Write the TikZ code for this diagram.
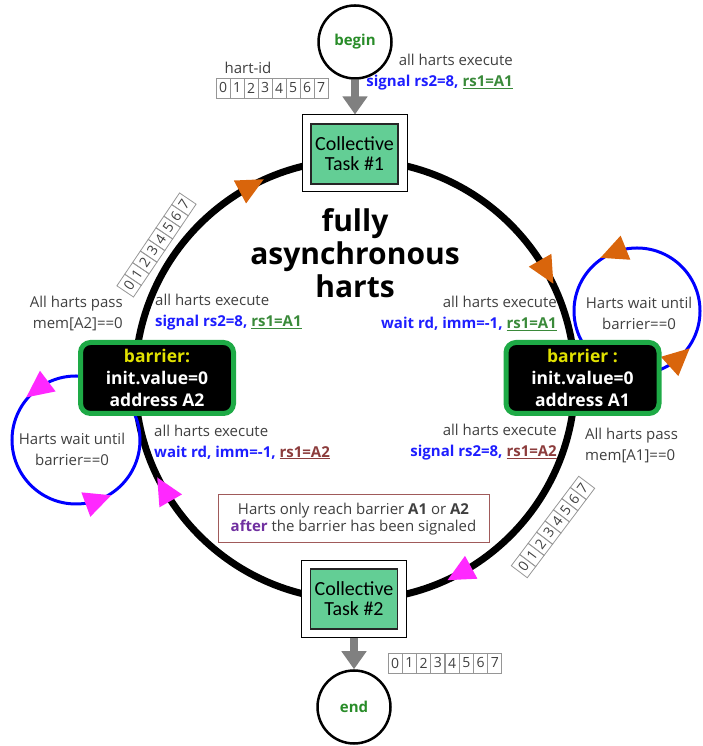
\documentclass[tikz,border=0pt]{standalone}
\usepackage{fontspec}
\setmainfont{Open Sans}
\newfontfamily\calfont{Carlito}
\usetikzlibrary{arrows.meta,decorations.markings}
\definecolor{tblue}{RGB}{30,30,255}
\definecolor{tgreen}{RGB}{58,138,58}
\definecolor{tbrown}{RGB}{140,60,60}
\definecolor{tpurple}{RGB}{112,48,160}
\definecolor{tgray}{RGB}{64,64,64}
\definecolor{ylw}{RGB}{225,225,0}
\definecolor{bgreen}{RGB}{30,170,70}
\definecolor{orangeA}{RGB}{217,101,12}
\definecolor{magA}{RGB}{255,40,255}
\definecolor{taskgreen}{RGB}{99,206,149}
\definecolor{loopblue}{RGB}{0,0,255}
\definecolor{arrgray}{RGB}{128,128,128}
\definecolor{cellgray}{RGB}{150,150,150}
\definecolor{notebrown}{RGB}{160,90,90}
\definecolor{termgreen}{RGB}{40,140,40}
\newcommand\bluetx[1]{\textcolor{tblue}{\bfseries #1}}
\newcommand\greenul[1]{\textcolor{tgreen}{\bfseries\underline{#1}}}
\newcommand\brownul[1]{\textcolor{tbrown}{\bfseries\underline{#1}}}
\newcommand\otip{\fill[orangeA] (-13,-13) -- (14,0) -- (-13,13) -- cycle;}
\newcommand\mtip{\fill[magA] (-13,-13) -- (14,0) -- (-13,13) -- cycle;}
\tikzset{
  txt/.style={inner sep=0pt, text=tgray, font=\fontsize{15}{21}\selectfont},
  cell/.style={draw=cellgray, line width=0.8pt, minimum width=14pt, minimum height=20pt, inner sep=0pt, text=tgray, font=\fontsize{14}{14}\selectfont},
  barrier/.style={rectangle, rounded corners=10pt, fill=black, draw=bgreen, line width=5pt, minimum width=153pt, minimum height=71pt, align=center, text=white, inner sep=2pt, font=\bfseries\fontsize{17.5}{22}\selectfont},
  taskout/.style={rectangle, draw=black, line width=1pt, fill=white, minimum width=105pt, minimum height=77pt, inner sep=0pt},
  taskin/.style={rectangle, draw=black!85, line width=1.3pt, fill=taskgreen, minimum width=87pt, minimum height=60pt, inner sep=0pt, align=center, font=\calfont\fontsize{20}{20}\selectfont},
  term/.style={circle, draw=black, line width=2.5pt, fill=white, minimum size=73pt, inner sep=0pt, text=termgreen, font=\bfseries\fontsize{15}{15}\selectfont},
  grayarrow/.style={draw=arrgray, line width=8pt, -{Triangle[length=18pt,width=24pt]}},
  notebox/.style={rectangle, draw=notebrown, line width=1pt, fill=white, minimum width=271pt, minimum height=48pt, align=center, inner sep=0pt, text=tgray, font=\fontsize{15}{17}\selectfont},
  loopline/.style={draw=loopblue, line width=3pt},
}
\begin{document}
\begin{tikzpicture}[x=1pt,y=1pt]
\useasboundingbox (0,0) rectangle (703,746);
% main ring (clockwise)
\draw[line width=7pt, decoration={markings,
    mark=at position 0.168 with {\otip},
    mark=at position 0.421 with {\mtip},
    mark=at position 0.667 with {\mtip},
    mark=at position 0.922 with {\otip}}, postaction=decorate]
  (355,586) arc[start angle=90, end angle=-270, radius=220];
% waiting loops (counter-clockwise)
\draw[loopline, decoration={markings,
    mark=at position 0.311 with {\otip},
    mark=at position 0.867 with {\otip}}, postaction=decorate]
  (700,435) arc[start angle=0, end angle=360, radius=63];
\draw[loopline, decoration={markings,
    mark=at position 0.353 with {\mtip},
    mark=at position 0.806 with {\mtip}}, postaction=decorate]
  (140,306) arc[start angle=0, end angle=360, radius=64];
% barriers
\node[barrier] (bA2) at (157,368) {\textcolor{ylw}{barrier:}\\init.value=0\\address A2};
\node[barrier] (bA1) at (582.5,368) {\textcolor{ylw}{barrier :}\\init.value=0\\address A1};
% tasks
\node[taskout] (t1o) at (354.5,592.5) {};
\node[taskin] (t1) at (354.5,592) {Collective\\Task \#1};
\node[taskout] (t2o) at (354,147) {};
\node[taskin] (t2) at (354,147) {Collective\\Task \#2};
% begin / end
\node[term] (begin) at (355,704) {begin};
\node[term] (end) at (354,39) {end};
\draw[grayarrow] (begin.south) -- (begin.south |- t1o.north);
\draw[grayarrow] (t2o.south) -- (t2o.south |- end.north);
% title
\node[inner sep=0pt, align=center, font=\bfseries\fontsize{30}{33}\selectfont] (title) at (355,493) {fully\\asynchronous\\harts};
% hart-id arrays
\node[txt] (hid) at (248,678) {hart-id};
\foreach \i in {0,...,7} \node[cell] (ta\i) at ({272+(\i-3.5)*14},658) {\i};
\foreach \i in {0,...,7} \node[cell] (ba\i) at ({445+(\i-3.5)*14.25},83) {\i};
\begin{scope}[shift={(156.5,501)}, rotate=56]
\foreach \i in {0,...,7} \node[cell, rotate=56] (la\i) at ({(\i-3.5)*14},0) {\i};
\end{scope}
\begin{scope}[shift={(553,219)}, rotate=53]
\foreach \i in {0,...,7} \node[cell, rotate=53] (ra\i) at ({(\i-3.5)*14},0) {\i};
\end{scope}
% texts
\node[txt, anchor=east, align=right] (ex1) at (513,673.5) {all harts execute\\\bluetx{signal rs2=8,} \greenul{rs1=A1}};
\node[txt, anchor=east, align=right] (pass2) at (123,432.5) {All harts pass\\mem[A2]==0};
\node[txt, anchor=west, align=left] (ex2) at (155,433.5) {all harts execute\\\bluetx{signal rs2=8,} \greenul{rs1=A1}};
\node[txt, anchor=east, align=right] (ex3) at (557,432.5) {all harts execute\\\bluetx{wait rd, imm=-1,} \greenul{rs1=A1}};
\node[txt, align=center] (w1) at (639,432.5) {Harts wait until\\barrier==0};
\node[txt, anchor=west, align=left] (ex4) at (154,304) {all harts execute\\\bluetx{wait rd, imm=-1,} \brownul{rs1=A2}};
\node[txt, align=center] (w2) at (72,297) {Harts wait until\\barrier==0};
\node[txt, anchor=east, align=right] (ex5) at (557,303.5) {all harts execute\\\bluetx{signal rs2=8,} \brownul{rs1=A2}};
\node[txt, anchor=west, align=left] (pass1) at (585,300.5) {All harts pass\\mem[A1]==0};
% note
\node[notebox] (note) at (353.5,227) {Harts only reach barrier \textbf{A1} or \textbf{A2}\\\textcolor{tpurple}{\textbf{after}} the barrier has been signaled};
\end{tikzpicture}
\end{document}
